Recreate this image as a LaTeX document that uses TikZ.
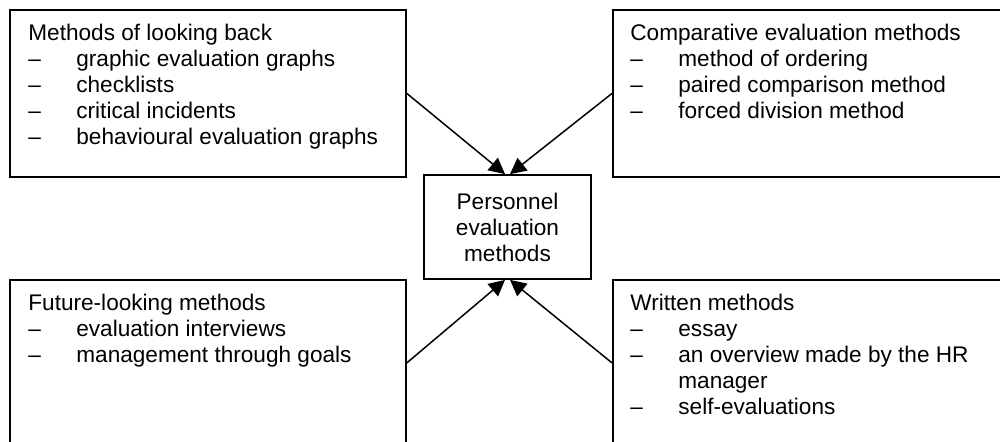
\documentclass[tikz,border=0pt]{standalone}
\usepackage{fontspec}
\setmainfont{Liberation Sans}
\usetikzlibrary{arrows.meta}
\begin{document}
\begin{tikzpicture}[x=0.5pt,y=-0.5pt,
  box/.style={draw, line width=0.9pt, rectangle, inner sep=0pt, anchor=north west},
  listtext/.style={anchor=north west, inner sep=0pt, align=left,
    font=\fontsize{11.3}{13}\selectfont},
  hub/.style={draw, line width=0.9pt, rectangle, inner sep=0pt,
    minimum width=83.5pt, minimum height=52pt, align=center,
    font=\fontsize{11.3}{13}\selectfont},
  feed/.style={line width=0.75pt, -{Triangle[length=8pt,width=8pt]}}]
\newcommand{\itm}{\makebox[24pt][l]{--}}
\useasboundingbox (0,0) rectangle (1000,441);

% four method groups
\node[box, minimum width=198pt, minimum height=83.5pt] (back) at (9,9) {};
\node[box, minimum width=196pt, minimum height=83.5pt] (comp) at (612,9) {};
\node[box, minimum width=198pt, minimum height=83pt] (future) at (9,279) {};
\node[box, minimum width=196pt, minimum height=83pt] (written) at (612,279) {};

% central node
\node[hub] (pem) at (507.5,227) {Personnel\\evaluation\\methods};

% list contents
\node[listtext] (backtxt) at (28,24) {Methods of looking back\\
  \itm graphic evaluation graphs\\
  \itm checklists\\
  \itm critical incidents\\
  \itm behavioural evaluation graphs};
\node[listtext] (comptxt) at (630,24) {Comparative evaluation methods\\
  \itm method of ordering\\
  \itm paired comparison method\\
  \itm forced division method};
\node[listtext] (futuretxt) at (28,294) {Future-looking methods\\
  \itm evaluation interviews\\
  \itm management through goals};
\node[listtext] (writtentxt) at (630,294) {Written methods\\
  \itm essay\\
  \itm an overview made by the HR\\
  \hspace*{24pt}manager\\
  \itm self-evaluations};

% connectors into the central node
\draw[feed] (back.east) -- ([xshift=-1.25pt]pem.north);
\draw[feed] (comp.west) -- ([xshift=1.25pt]pem.north);
\draw[feed] (future.east) -- ([xshift=-1.25pt]pem.south);
\draw[feed] (written.west) -- ([xshift=1.25pt]pem.south);
\end{tikzpicture}
\end{document}
